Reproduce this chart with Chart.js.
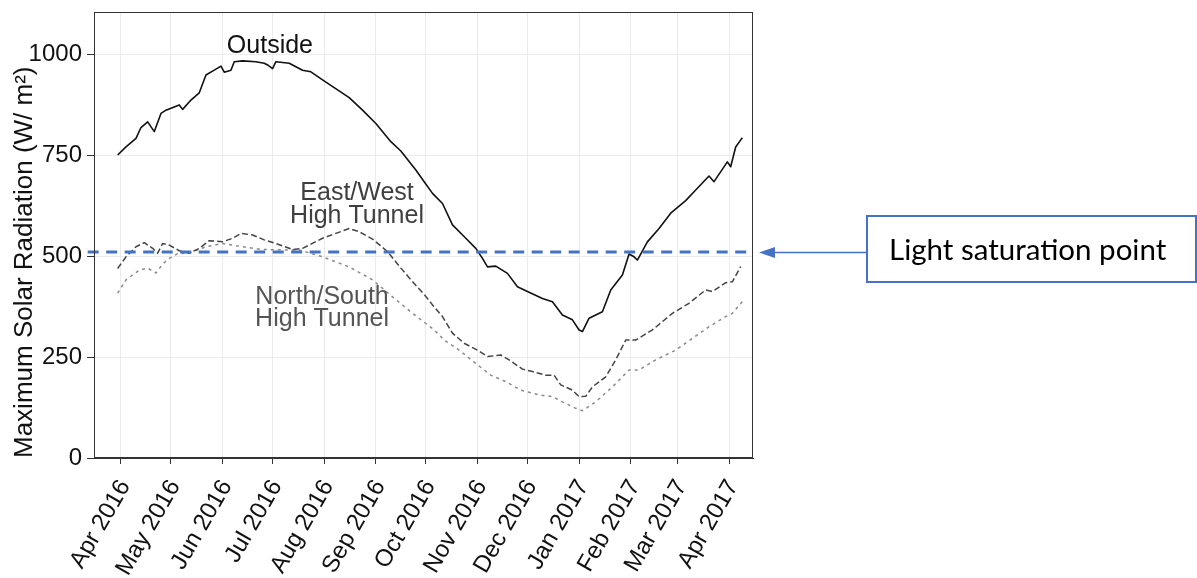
<!DOCTYPE html>
<html>
<head>
<meta charset="utf-8">
<script src="https://cdn.jsdelivr.net/npm/chart.js@4.4.0/dist/chart.umd.min.js"></script>
<style>
  html, body { margin: 0; padding: 0; background: #fff; }
  #wrap { width: 1197px; height: 578px; position: relative; }
</style>
</head>
<body>
<div id="wrap"><canvas id="chart"></canvas></div>
<script>
// x values are days counted from 1 Apr 2016
const monthDays = [0, 30, 61, 91, 122, 153, 183, 214, 244, 275, 306, 334, 365];
const monthLabels = ['Apr 2016', 'May 2016', 'Jun 2016', 'Jul 2016', 'Aug 2016', 'Sep 2016',
    'Oct 2016', 'Nov 2016', 'Dec 2016', 'Jan 2017', 'Feb 2017', 'Mar 2017', 'Apr 2017'];
const yTicks = [0, 250, 500, 750, 1000];
const saturationPoint = 510;
const saturationDays = [-20, 378];

const outsideDays = [-2, 3, 9, 12, 16, 20, 24, 27, 35, 37, 42, 47, 51, 56, 60, 62, 66, 68, 73, 81,
    86, 88, 91, 93, 101, 109, 114, 121, 137, 145, 153, 162, 168, 177, 182, 187, 193, 199, 207, 213,
    217, 220, 225, 232, 238, 244, 253, 259, 265, 271, 275, 277, 281, 289, 294, 301, 305, 308, 310,
    316, 323, 330, 339, 344, 353, 356, 364, 366, 369, 373];
const outsideValues = [750, 770, 791, 818, 832, 808, 853, 861, 874, 863, 886, 904, 948, 960, 970, 955, 960, 981, 983, 981,
    977, 973, 964, 981, 977, 960, 956, 936, 892, 861, 828, 783, 760, 713, 684, 655, 630, 577, 544, 519,
    494, 473, 475, 457, 424, 412, 395, 387, 354, 342, 317, 313, 346, 362, 416, 453, 505, 498, 490,
    535, 568, 606, 637, 659, 698, 684, 733, 721, 770, 793];

const eastWestDays = [-2, 3, 9, 14, 19, 22, 25, 29, 35, 41, 47, 53, 61, 67, 72, 79, 86, 93, 103, 109,
    121, 137, 143, 151, 160, 168, 176, 183, 187, 193, 199, 206, 214, 220, 228, 233, 241, 247, 255, 260,
    264, 271, 275, 279, 283, 291, 297, 303, 309, 319, 331, 341, 351, 355, 363, 367, 372];
const eastWestValues = [469, 498, 523, 533, 519, 507, 531, 527, 513, 507, 519, 538, 535, 544, 556, 552, 540, 531, 516, 519,
    544, 568, 560, 542, 511, 470, 432, 400, 379, 350, 309, 284, 267, 251, 255, 243, 220, 214, 205, 205,
    181, 168, 152, 153, 176, 201, 243, 292, 292, 317, 358, 383, 416, 412, 434, 436, 474];

const northSouthDays = [-2, 3, 11, 16, 21, 25, 29, 34, 41, 51, 61, 73, 85, 101, 107, 121, 137, 151, 163, 175,
    183, 188, 194, 203, 213, 222, 231, 240, 251, 259, 265, 273, 277, 285, 295, 305, 311, 321, 333, 343,
    353, 363, 367, 373];
const northSouthValues = [408, 441, 465, 470, 458, 480, 494, 506, 507, 523, 531, 523, 516, 515, 515, 498, 473, 441, 399, 358,
    333, 317, 292, 267, 234, 205, 189, 168, 156, 152, 139, 123, 117, 139, 176, 218, 218, 243, 267, 296,
    325, 350, 358, 387];

const toPoints = (days, values) => days.map((d, i) => ({ x: d, y: values[i] }));

const FONT = '"Liberation Sans", Arial, sans-serif';

// text placed next to the curves, anchored in data units
const curveLabels = [
    { lines: ['Outside'], day: 89.4, value: 1020, color: '#111111', gap: 23 },
    { lines: ['East/West', 'High Tunnel'], day: 141.7, value: 656, color: '#3f3f3f', gap: 23 },
    { lines: ['North/South', 'High Tunnel'], day: 120.7, value: 399, color: '#555555', gap: 22 }
];

const decorations = {
    id: 'decorations',
    afterDraw(chart) {
        const { ctx, chartArea: a, scales: { x, y } } = chart;
        ctx.save();

        // frame around the panel
        ctx.strokeStyle = '#333333';
        ctx.lineWidth = 1;
        ctx.strokeRect(a.left + 0.5, a.top + 0.5, a.right - a.left - 1, a.bottom - a.top - 1);

        // curve labels
        ctx.font = '25px ' + FONT;
        ctx.textAlign = 'center';
        ctx.textBaseline = 'middle';
        curveLabels.forEach(l => {
            ctx.fillStyle = l.color;
            const px = x.getPixelForValue(l.day);
            const py = y.getPixelForValue(l.value);
            l.lines.forEach((t, i) => ctx.fillText(t, px, py + i * l.gap));
        });

        // arrow + callout box
        const yy = Math.round(y.getPixelForValue(saturationPoint)) + 0.5;
        const tip = a.right + 6;
        const boxLeft = 867, boxTop = 216, boxBottom = 282, boxRight = 1196;
        ctx.strokeStyle = '#4472C4';
        ctx.fillStyle = '#4472C4';
        ctx.lineWidth = 1.5;
        ctx.beginPath();
        ctx.moveTo(boxLeft, yy);
        ctx.lineTo(tip + 12, yy);
        ctx.stroke();
        ctx.beginPath();
        ctx.moveTo(tip, yy);
        ctx.lineTo(tip + 16, yy - 5.5);
        ctx.lineTo(tip + 16, yy + 5.5);
        ctx.closePath();
        ctx.fill();
        ctx.lineWidth = 2;
        ctx.strokeRect(boxLeft, boxTop, boxRight - boxLeft, boxBottom - boxTop);

        ctx.fillStyle = '#000000';
        ctx.textAlign = 'left';
        ctx.textBaseline = 'middle';
        const txt = 'Light saturation point';
        ctx.font = '30px Lato, "Open Sans", sans-serif';
        const w = ctx.measureText(txt).width;
        const size = 30 * 277 / w;
        ctx.font = size.toFixed(1) + 'px Lato, "Open Sans", sans-serif';
        ctx.fillText(txt, 889, (boxTop + boxBottom) / 2 + 1);

        ctx.restore();
    }
};

const ctx = document.getElementById('chart').getContext('2d');
new Chart(ctx, {
    type: 'line',
    data: {
        datasets: [
            {
                label: 'Outside',
                data: toPoints(outsideDays, outsideValues),
                borderColor: '#111111',
                borderWidth: 1.6,
                order: 1
            },
            {
                label: 'East/West High Tunnel',
                data: toPoints(eastWestDays, eastWestValues),
                borderColor: '#444444',
                borderWidth: 1.5,
                borderDash: [6, 3],
                order: 2
            },
            {
                label: 'North/South High Tunnel',
                data: toPoints(northSouthDays, northSouthValues),
                borderColor: '#8a8a8a',
                borderWidth: 1.5,
                borderDash: [3, 4],
                order: 3
            },
            {
                label: 'Light saturation point',
                data: saturationDays.map(d => ({ x: d, y: saturationPoint })),
                borderColor: '#4472C4',
                borderWidth: 3,
                borderDash: [11, 7.5],
                clip: false,
                order: 0
            }
        ]
    },
    options: {
        responsive: true,
        maintainAspectRatio: false,
        animation: false,
        layout: { padding: { left: 0, right: 444, top: 12, bottom: 0 } },
        elements: {
            point: { radius: 0, hoverRadius: 0 },
            line: { tension: 0, borderJoinStyle: 'round', borderCapStyle: 'butt' }
        },
        plugins: {
            legend: { display: false },
            tooltip: { enabled: false }
        },
        scales: {
            x: {
                type: 'linear',
                min: -16.2,
                max: 379.4,
                afterBuildTicks: scale => { scale.ticks = monthDays.map(v => ({ value: v })); },
                afterFit: scale => {
                    scale.height = 120;
                    scale.paddingLeft = 0;
                    scale.paddingRight = 0;
                },
                grid: { color: '#ebebeb', tickColor: '#333333', tickLength: 6, drawTicks: true },
                border: { display: true, color: '#333333', width: 1 },
                ticks: {
                    autoSkip: false,
                    minRotation: 60,
                    maxRotation: 60,
                    padding: 11,
                    labelOffset: 4,
                    color: '#111111',
                    font: { family: FONT, size: 24 },
                    callback: (v, i) => monthLabels[i]
                }
            },
            y: {
                type: 'linear',
                min: 0,
                max: 1104,
                afterBuildTicks: scale => { scale.ticks = yTicks.map(v => ({ value: v })); },
                afterFit: scale => {
                    scale.width = 94;
                    scale.paddingTop = 0;
                    scale.paddingBottom = 0;
                },
                grid: { color: '#ebebeb', tickColor: '#333333', tickLength: 7, drawTicks: true },
                border: { display: true, color: '#333333', width: 1 },
                ticks: {
                    padding: 5,
                    color: '#111111',
                    font: { family: FONT, size: 24 },
                    callback: v => String(v)
                },
                title: {
                    display: true,
                    text: 'Maximum Solar Radiation (W/ m²)',
                    align: 'start',
                    color: '#111111',
                    font: { family: FONT, size: 26 },
                    padding: { top: 9, bottom: 0 }
                }
            }
        }
    },
    plugins: [decorations]
});
</script>
</body>
</html>
